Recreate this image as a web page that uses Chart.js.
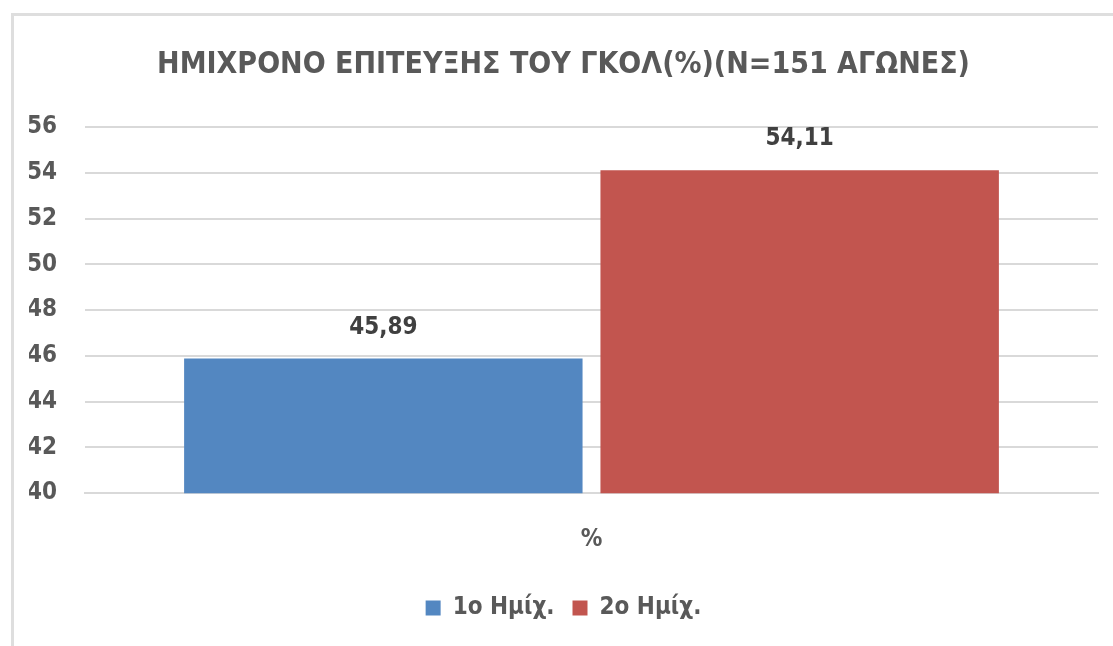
<!DOCTYPE html>
<html>
<head>
<meta charset="utf-8">
<script src="https://cdn.jsdelivr.net/npm/chart.js@4"></script>
<style>
  html, body { margin: 0; padding: 0; background: #fff; overflow: hidden; }
  #frame { position: absolute; left: 11px; top: 13px; width: 1300px; height: 800px; border-left: 3px solid #dedede; border-top: 3px solid #dedede; }
  #wrap { position: absolute; left: 0; top: 0; width: 1113px; height: 646px; }
</style>
</head>
<body>
<div id="frame"></div>
<div id="wrap"><canvas id="chart"></canvas></div>
<script>
// chart data
const categories = ['%'];
const seriesNames = ['1ο Ημίχ.', '2ο Ημίχ.'];
const firstHalf = [45.89];
const secondHalf = [54.11];
const seriesColors = ['#5387c1', '#c2554f'];
const yTicks = [40, 42, 44, 46, 48, 50, 52, 54, 56];

const FONT = "'DejaVu Sans Condensed', 'Open Sans', sans-serif";

// draws the value above each bar, Greek decimal comma
const valueLabels = {
    id: 'valueLabels',
    afterDatasetsDraw(chart) {
        const ctx = chart.ctx;
        ctx.save();
        ctx.font = 'bold 24px ' + FONT;
        ctx.fillStyle = '#404040';
        ctx.textAlign = 'center';
        ctx.textBaseline = 'middle';
        chart.data.datasets.forEach((ds, i) => {
            chart.getDatasetMeta(i).data.forEach((bar, j) => {
                const txt = ds.data[j].toFixed(2).replace('.', ',');
                ctx.fillText(txt, bar.x, bar.y - 31);
            });
        });
        ctx.restore();
    }
};

new Chart(document.getElementById('chart'), {
    type: 'bar',
    data: {
        labels: categories,
        datasets: [
            { label: seriesNames[0], data: firstHalf, backgroundColor: seriesColors[0] },
            { label: seriesNames[1], data: secondHalf, backgroundColor: seriesColors[1] }
        ]
    },
    options: {
        responsive: true,
        maintainAspectRatio: false,
        animation: false,
        categoryPercentage: 0.822,
        barPercentage: 0.957,
        layout: { padding: { top: 47, left: 29, right: 15, bottom: 16 } },
        plugins: {
            title: {
                display: true,
                text: 'ΗΜΙΧΡΟΝΟ ΕΠΙΤΕΥΞΗΣ ΤΟΥ ΓΚΟΛ(%)(N=151 ΑΓΩΝΕΣ)',
                color: '#595959',
                font: { family: FONT, size: 30, weight: 'bold', lineHeight: 1.2 },
                padding: { top: 0, bottom: 44 }
            },
            legend: {
                position: 'bottom',
                labels: {
                    color: '#595959',
                    font: { family: FONT, size: 24, weight: 'bold' },
                    boxWidth: 15,
                    boxHeight: 15,
                    padding: 18
                }
            },
            tooltip: { enabled: false }
        },
        scales: {
            x: {
                grid: { display: false },
                border: { color: '#d9d9d9', width: 2 },
                ticks: {
                    color: '#595959',
                    padding: 24,
                    font: { family: FONT, size: 24, weight: 'bold' }
                }
            },
            y: {
                min: 40,
                max: 56,
                afterBuildTicks(scale) {
                    scale.ticks = yTicks.map(v => ({ value: v }));
                },
                afterFit(scale) { scale.width = 56; },
                grid: { color: '#d9d9d9', lineWidth: 2, drawTicks: false },
                border: { display: false },
                ticks: {
                    color: '#595959',
                    padding: 28,
                    font: { family: FONT, size: 24, weight: 'bold' }
                }
            }
        }
    },
    plugins: [valueLabels]
});
</script>
</body>
</html>
